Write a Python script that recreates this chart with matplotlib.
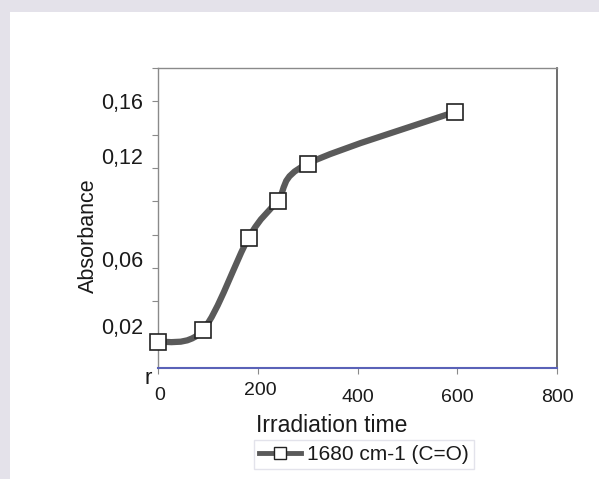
import numpy as np
import matplotlib
matplotlib.use("Agg")
import matplotlib.pyplot as plt
from matplotlib.path import Path
from matplotlib.patches import PathPatch, Rectangle
from matplotlib.lines import Line2D
import matplotlib.transforms as mtransforms

plt.rcParams['font.family'] = ['Liberation Sans', 'DejaVu Sans']

# data
irradiation_time = [0, 90, 182, 240, 300, 596]
absorbance = [0.0155, 0.0227, 0.0783, 0.1005, 0.1226, 0.1537]
series_label = "1680 cm-1 (C=O)"

x_ticks = [0, 200, 400, 600, 800]
y_ticks = [0.02, 0.04, 0.06, 0.08, 0.10, 0.12, 0.14, 0.16, 0.18]
y_tick_labels = ["0,02", "", "0,06", "", "", "0,12", "", "0,16", ""]

line_color = '#5a5a5a'
text_color = '#1a1a1a'

fig = plt.figure(figsize=(5.99, 4.79), dpi=100)
# scan border: grey band on top and left
fig.patches.append(Rectangle((0, 0), 1, 1, transform=fig.transFigure,
                             facecolor='#e4e2ea', edgecolor='none', zorder=-10))
fig.patches.append(Rectangle((10 / 599, 0), 1, 1 - 12 / 479, transform=fig.transFigure,
                             facecolor='white', edgecolor='none', zorder=-9))

ax = fig.add_axes([158 / 599, 1 - 368 / 479, 399 / 599, 300 / 479])
ax.set_xlim(0, 800)
ax.set_ylim(0, 0.18)


def smooth_path(xs, ys, tension=1.0):
    # Catmull-Rom style cubic bezier through the data points (like Excel's smoothed line)
    pts = np.column_stack([xs, ys]).astype(float)
    n = len(pts)
    verts = [pts[0]]
    codes = [Path.MOVETO]
    for i in range(n - 1):
        p0 = pts[i - 1] if i > 0 else pts[i]
        p1 = pts[i]
        p2 = pts[i + 1]
        p3 = pts[i + 2] if i + 2 < n else pts[i + 1]
        c1 = p1 + (p2 - p0) / 6 * tension
        c2 = p2 - (p3 - p1) / 6 * tension
        verts += [c1, c2, p2]
        codes += [Path.CURVE4] * 3
    return Path(verts, codes)


ax.add_patch(PathPatch(smooth_path(irradiation_time, absorbance), facecolor='none',
                       edgecolor=line_color, lw=4.5, capstyle='round', zorder=2))
ax.plot(irradiation_time, absorbance, linestyle='none', marker='s', markersize=11.5,
        markerfacecolor='white', markeredgecolor='#222222', markeredgewidth=1.2,
        zorder=3, clip_on=False)

# frame
for side in ['left', 'top']:
    ax.spines[side].set_color('#8a8a8a')
    ax.spines[side].set_linewidth(1.0)
ax.spines['right'].set_color('#555555')
ax.spines['right'].set_linewidth(1.2)
ax.spines['bottom'].set_color('#5a62b8')
ax.spines['bottom'].set_linewidth(1.5)

ax.set_xticks(x_ticks)
ax.set_yticks(y_ticks)
ax.set_yticklabels(y_tick_labels)
ax.tick_params(axis='both', direction='out', length=4, width=0.8, color='#8a8a8a',
               labelcolor=text_color)
ax.tick_params(axis='x', pad=11, labelsize=14)
ax.tick_params(axis='y', pad=6.5, labelsize=15.5)

# the scanned labels sit a little off their ticks
y_shift = {"0,02": 9, "0,06": 9, "0,12": 12, "0,16": 0}
for lab in ax.get_yticklabels():
    dy = y_shift.get(lab.get_text(), 0)
    lab.set_transform(lab.get_transform() +
                      mtransforms.ScaledTranslation(0, dy / 100, fig.dpi_scale_trans))
x_shift = {"0": (2, 2), "200": (3, 7)}
for lab in ax.get_xticklabels():
    dx, dy = x_shift.get(lab.get_text(), (0, 0))
    lab.set_transform(lab.get_transform() +
                      mtransforms.ScaledTranslation(dx / 100, dy / 100, fig.dpi_scale_trans))

ax.set_ylabel("Absorbance", fontsize=15.5, color=text_color)
ax.yaxis.set_label_coords(-0.148, 0.44)
ax.set_xlabel("Irradiation time", fontsize=16.5, color=text_color)
ax.xaxis.set_label_coords(0.436, -0.155)

# stray scanned glyph below the y axis
fig.text(148 / 599, 1 - 378 / 479, "r", fontsize=16, color=text_color,
         ha='center', va='center')

handle = Line2D([], [], color=line_color, lw=3.5, marker='s', markersize=8,
                markerfacecolor='white', markeredgecolor='#222222', markeredgewidth=1.0)
leg = ax.legend([handle], [series_label], loc='upper left',
                bbox_to_anchor=(254 / 599, 1 - 440 / 479), bbox_transform=fig.transFigure,
                fontsize=15, frameon=True, fancybox=False, handlelength=2.0,
                handletextpad=0.3, borderpad=0.25, borderaxespad=0)
leg.get_frame().set_edgecolor('#dcdce6')
leg.get_frame().set_linewidth(1.0)
for t in leg.get_texts():
    t.set_color(text_color)

fig.savefig("out.png", dpi=100)
